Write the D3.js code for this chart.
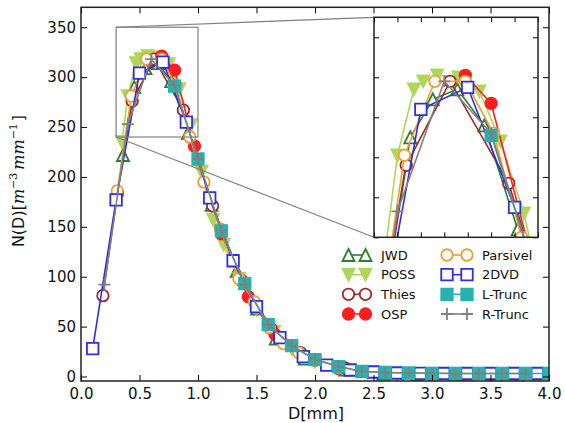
<!DOCTYPE html>
<html><head><meta charset="utf-8">
<script src="https://cdn.jsdelivr.net/npm/d3@7"></script>
<style>body{margin:0;background:#fff} svg{display:block} text{font-family:"DejaVu Sans",sans-serif}</style>
</head><body><svg id="c" width="565" height="423"></svg>
<script>
// ---------------- data ----------------
const JWD_D = [0.359,0.455,0.551,0.656,0.771,0.913,1.116,1.331,1.506,1.665,1.912,2.259,2.584,2.869,3.198,3.544,3.916];
const JWD_N = [222,290,309,314,296,244,172,106,68,38,18,7,3,1.5,0.8,0.4,0.2];
const POSS_D = [0.35,0.40,0.47,0.51,0.57,0.66,0.75,0.84,0.94,1.03,1.13,1.22,1.35,1.5,1.65,1.8,2.0,2.2,2.45,2.7,3.0,3.3,3.6,3.9];
const POSS_N = [235,281,314,318,321,320,313,288,252,205,157,132,98,67,45,28,15,8,4,2,1,0.5,0.3,0.2];
const THIES_D = [0.1875,0.3125,0.4375,0.625,0.875,1.125,1.375,1.625,1.875,2.25,2.75,3.25,3.75];
const THIES_N = [81,184,276,318,267,171,96,48,24,9,3,1.2,0.5];
const OSP_D = [0.69,0.80,0.97,1.2,1.43,1.66,1.9,2.2,2.6,3.0,3.5];
const OSP_N = [321,307,231,143,80,42,20,8,3,1.2,0.4];
const PARS_D = [0.31,0.43,0.56,0.69,0.81,0.93,1.05,1.19,1.35,1.48,1.61,1.73,1.86,2.0,2.2,2.45,2.75,3.05,3.35,3.65,3.95];
const PARS_N = [186,281,318,318,292,240,195,148,98,75,49,33,24,16,9,5,2.5,1.5,1,0.6,0.4];
const DVD_D = [0.1,0.3,0.5,0.7,0.9,1.1,1.3,1.5,1.7,1.9,2.1,2.3,2.5,2.7,2.9,3.1,3.3,3.5,3.7,3.9];
const DVD_N = [28,177,304,315,255,179,116,70,39,20,11.5,6.5,4.5,3.5,3.2,3,3,3,3,3];
const LT_D = [0.8,1.0,1.2,1.4,1.6,1.8,2.0,2.2,2.4,2.6,2.8,3.0,3.2,3.4,3.6,3.8,4.0];
const LT_N = [291,218,146,93,52,31,17,10,5,4,3.5,3.2,3,3,3,3,3];
const RT_D = [0.2,0.4,0.6,0.8,1.0,1.2,1.4,1.6,1.8,2.0,2.2,2.4,2.6,2.8,3.0,3.2,3.4,3.6,3.8];
const RT_N = [92,253,318,292,218,146,92,52,31,17,10,5,4,3.5,3.2,3,3,3,3];

const NAMES = ["JWD","POSS","Thies","OSP","Parsivel","2DVD","L-Trunc","R-Trunc"];
const X_TICKS = [0,0.5,1.0,1.5,2.0,2.5,3.0,3.5,4.0];
const Y_TICKS = [0,50,100,150,200,250,300,350];
const INSET_X_TICKS = [0.3,0.4,0.5,0.6,0.7,0.8,0.9,1.0];
const INSET_Y_TICKS = [240,260,280,300,320,340];

const series = [
  {name:NAMES[0], D:JWD_D,   N:JWD_N,   color:"#2e7d32", mk:"^", fill:"#fff", op:1},
  {name:NAMES[1], D:POSS_D,  N:POSS_N,  color:"#9acd32", mk:"v", fill:"#9acd32", op:0.8},
  {name:NAMES[2], D:THIES_D, N:THIES_N, color:"#9b2c2c", mk:"o", fill:"#fff", op:1},
  {name:NAMES[3], D:OSP_D,   N:OSP_N,   color:"#ff1e1e", mk:"o", fill:"#ff1e1e", op:1},
  {name:NAMES[4], D:PARS_D,  N:PARS_N,  color:"#f39c34", mk:"o", fill:"#fff", op:1},
  {name:NAMES[5], D:DVD_D,   N:DVD_N,   color:"#2f2fe0", mk:"s", fill:"#fff", op:1},
  {name:NAMES[6], D:LT_D,    N:LT_N,    color:"#26b3b0", mk:"s", fill:"#26b3b0", op:1},
  {name:NAMES[7], D:RT_D,    N:RT_N,    color:"#808080", mk:"+", fill:"none", op:1}
];

// ---------------- layout ----------------
const svg = d3.select("#c");
const M = {l:81, r:549, t:7.3, b:381};
const x = d3.scaleLinear().domain([0,4]).range([M.l,M.r]);
const y = d3.scaleLinear().domain([-4.5,370]).range([M.b,M.t]);
const I = {l:374, r:538, t:17.3, b:237.3};
const xi = d3.scaleLinear().domain([0.3,1.0]).range([I.l,I.r]);
const yi = d3.scaleLinear().domain([240,350]).range([I.b,I.t]);

const defs = svg.append("defs");
defs.append("clipPath").attr("id","cm").append("rect").attr("x",M.l).attr("y",M.t).attr("width",M.r-M.l).attr("height",M.b-M.t);
defs.append("clipPath").attr("id","ci").append("rect").attr("x",I.l).attr("y",I.t).attr("width",I.r-I.l).attr("height",I.b-I.t);

function markerPath(t, s){
  const h = s/2;
  if(t==="^") return `M0,${-h}L${h},${h}L${-h},${h}Z`;
  if(t==="v") return `M0,${h}L${h},${-h}L${-h},${-h}Z`;
  if(t==="o") return `M${h},0A${h},${h} 0 1,1 ${-h},0A${h},${h} 0 1,1 ${h},0Z`;
  if(t==="s") return `M${-h},${-h}H${h}V${h}H${-h}Z`;
  if(t==="+") return `M${-h},0H${h}M0,${-h}V${h}`;
}
const MS = {"^":12,"v":12,"o":11.5,"s":11.5,"+":12};

function drawSeries(g, sx, sy){
  series.forEach(s=>{
    const pts = s.D.map((d,i)=>[d,s.N[i]]);
    const gg = g.append("g").attr("opacity",s.op);
    gg.append("path").attr("d", d3.line().x(p=>sx(p[0])).y(p=>sy(p[1]))(pts))
      .attr("fill","none").attr("stroke",s.color).attr("stroke-width",1.6);
    gg.selectAll("path.m").data(pts).enter().append("path").attr("class","m")
      .attr("transform",p=>`translate(${sx(p[0])},${sy(p[1])})`)
      .attr("d",markerPath(s.mk,MS[s.mk]))
      .attr("fill",s.fill).attr("stroke",s.color).attr("stroke-width",1.8);
  });
}

// main plot
const gm = svg.append("g").attr("clip-path","url(#cm)");
drawSeries(gm, x, y);

// zoom rectangle and connectors
svg.append("rect").attr("x",x(0.3)).attr("y",y(350)).attr("width",x(1.0)-x(0.3)).attr("height",y(240)-y(350))
  .attr("fill","none").attr("stroke","#808080").attr("stroke-width",1.2);
svg.append("line").attr("x1",x(0.3)).attr("y1",y(350)).attr("x2",I.l).attr("y2",I.t).attr("stroke","#808080").attr("stroke-width",1.2);
svg.append("line").attr("x1",x(0.3)).attr("y1",y(240)).attr("x2",I.l).attr("y2",I.b).attr("stroke","#808080").attr("stroke-width",1.2);

// axes main
function styleAxis(g){
  g.select(".domain").remove();
  g.selectAll(".tick line").attr("stroke","#000").attr("stroke-width",1);
  g.selectAll(".tick text").attr("font-size",15).attr("fill","#111").attr("font-family","DejaVu Sans");
}
svg.append("g").attr("transform",`translate(0,${M.b})`).call(d3.axisBottom(x).tickValues(X_TICKS).tickFormat(d3.format(".1f")).tickSize(-6).tickPadding(7.5)).call(styleAxis);
svg.append("g").attr("transform",`translate(0,${M.t})`).call(d3.axisTop(x).tickValues(X_TICKS).tickFormat("").tickSize(-6)).call(styleAxis);
svg.append("g").attr("transform",`translate(${M.l},0)`).call(d3.axisLeft(y).tickValues(Y_TICKS).tickFormat(d3.format("d")).tickSize(-6).tickPadding(5)).call(styleAxis);
svg.append("g").attr("transform",`translate(${M.r},0)`).call(d3.axisRight(y).tickValues(Y_TICKS).tickFormat("").tickSize(-6)).call(styleAxis);
svg.append("rect").attr("x",M.l).attr("y",M.t).attr("width",M.r-M.l).attr("height",M.b-M.t)
  .attr("fill","none").attr("stroke","#222").attr("stroke-width",1.5);

// legend
const LROW = [255,274.7,294.3,314];
const LCOL = [{m1:348.5,m2:365.5,tx:381},{m1:447,m2:467,tx:482}];
series.forEach((s,i)=>{
  const c = LCOL[Math.floor(i/4)], ry = LROW[i%4];
  const g = svg.append("g").attr("opacity",s.op);
  g.append("line").attr("x1",c.m1).attr("x2",c.m2).attr("y1",ry).attr("y2",ry).attr("stroke",s.color).attr("stroke-width",1.6);
  [c.m1,c.m2].forEach(mx=>g.append("path").attr("transform",`translate(${mx},${ry})`).attr("d",markerPath(s.mk,MS[s.mk]))
    .attr("fill",s.fill).attr("stroke",s.color).attr("stroke-width",1.8));
  svg.append("text").attr("x",c.tx).attr("y",ry).attr("dy","0.36em").attr("font-size",13).attr("fill","#111").text(s.name);
});

// axis labels
svg.append("text").attr("x",316).attr("y",419).attr("text-anchor","middle").attr("font-size",16).attr("fill","#111").text("D[mm]");
const yl = svg.append("text").attr("transform","translate(24,181) rotate(-90)").attr("text-anchor","middle").attr("font-size",16).attr("fill","#111");
yl.append("tspan").text("N(D)[");
yl.append("tspan").attr("font-family","DejaVu Serif").attr("font-style","italic").text("m");
yl.append("tspan").attr("font-family","DejaVu Serif").attr("font-size",11).attr("dy",-7).text("−3");
yl.append("tspan").attr("font-family","DejaVu Serif").attr("font-style","italic").attr("dy",7).attr("dx",3).text("mm");
yl.append("tspan").attr("font-family","DejaVu Serif").attr("font-size",11).attr("dy",-7).text("−1");
yl.append("tspan").attr("dy",7).attr("dx",2).text("]");

// inset
svg.append("rect").attr("x",I.l).attr("y",I.t).attr("width",I.r-I.l).attr("height",I.b-I.t).attr("fill","#fff");
const gi = svg.append("g").attr("clip-path","url(#ci)");
drawSeries(gi, xi, yi);
svg.append("g").attr("transform",`translate(0,${I.b})`).call(d3.axisBottom(xi).tickValues(INSET_X_TICKS).tickFormat("").tickSize(-5)).call(styleAxis);
svg.append("g").attr("transform",`translate(0,${I.t})`).call(d3.axisTop(xi).tickValues(INSET_X_TICKS).tickFormat("").tickSize(-5)).call(styleAxis);
svg.append("g").attr("transform",`translate(${I.l},0)`).call(d3.axisLeft(yi).tickValues(INSET_Y_TICKS).tickFormat("").tickSize(-5)).call(styleAxis);
svg.append("g").attr("transform",`translate(${I.r},0)`).call(d3.axisRight(yi).tickValues(INSET_Y_TICKS).tickFormat("").tickSize(-5)).call(styleAxis);
svg.append("rect").attr("x",I.l).attr("y",I.t).attr("width",I.r-I.l).attr("height",I.b-I.t)
  .attr("fill","none").attr("stroke","#222").attr("stroke-width",1.5);
</script></body></html>
